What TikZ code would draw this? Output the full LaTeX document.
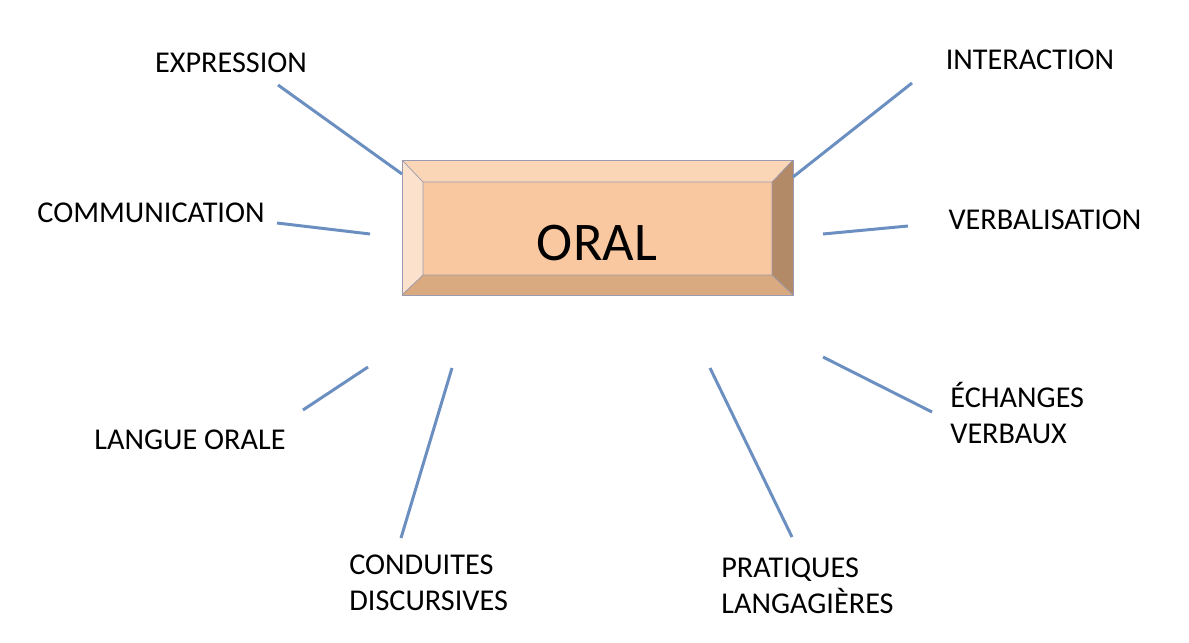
\documentclass[tikz,border=0pt]{standalone}
\usepackage{fontspec}
\setmainfont{Carlito}
\definecolor{spokeblue}{HTML}{6B8FC0}
\definecolor{faceorange}{HTML}{F9C8A0}
\definecolor{toporange}{HTML}{FBD6B6}
\definecolor{leftorange}{HTML}{FCE2CD}
\definecolor{rightbrown}{HTML}{B38A68}
\definecolor{bottombrown}{HTML}{D9A97F}
\definecolor{edgegrey}{HTML}{9A9AB0}
\tikzset{
  label/.style = {font=\fontsize{17.2}{20.5}\selectfont, align=left, inner sep=0pt},
  spoke/.style = {draw=spokeblue, line width=1.7pt}
}

\begin{document}
\begin{tikzpicture}[x=0.02cm, y=-0.02cm]
\useasboundingbox (0,0) rectangle (1189,642);
\def\outerbox{(402,160) rectangle (793,295)}
% bevelled box
\fill[faceorange] \outerbox;
\fill[toporange] (402,160) -- (793,160) -- (772,182) -- (423,182) -- cycle;
\fill[leftorange] (402,160) -- (423,182) -- (423,275) -- (402,295) -- cycle;
\fill[rightbrown] (793,160) -- (793,295) -- (772,275) -- (772,182) -- cycle;
\fill[bottombrown] (402,295) -- (423,275) -- (772,275) -- (793,295) -- cycle;
\draw[edgegrey, line width=0.5pt] \outerbox;
\draw[edgegrey, line width=0.4pt] (423,182) rectangle (772,275)
  (402,160) -- (423,182) (793,160) -- (772,182)
  (402,295) -- (423,275) (793,295) -- (772,275);
\node (oral) at (597,243) {\fontsize{31}{36}\selectfont ORAL};

\node[label] (expression) at (231,63) {EXPRESSION};
\node[label] (interaction) at (1030,60) {INTERACTION};
\node[label] (communication) at (151,213) {COMMUNICATION};
\node[label] (verbalisation) at (1045,220) {VERBALISATION};
\node[label] (langue) at (190,440) {LANGUE ORALE};
\node[label, anchor=west] (echanges) at (950,413) {ÉCHANGES\\VERBAUX};
\node[label, anchor=west] (conduites) at (349,583) {CONDUITES\\DISCURSIVES};
\node[label, anchor=west] (pratiques) at (721,586) {PRATIQUES\\LANGAGIÈRES};

\coordinate (expr-a) at (278,85);     \coordinate (expr-b) at (402,174);
\coordinate (inter-a) at (912,83);    \coordinate (inter-b) at (793,177);
\coordinate (comm-a) at (277,223);    \coordinate (comm-b) at (370,234);
\coordinate (verb-a) at (908,226);    \coordinate (verb-b) at (823,234);
\coordinate (lang-a) at (303,410);    \coordinate (lang-b) at (368,367);
\coordinate (ech-a) at (932,412);     \coordinate (ech-b) at (823,357);
\coordinate (cond-a) at (401,538);    \coordinate (cond-b) at (452,368);
\coordinate (prat-a) at (792,537);    \coordinate (prat-b) at (710,368);

\foreach \s in {expr, inter, comm, verb, lang, ech, cond, prat}
  \draw[spoke] (\s-a) -- (\s-b);
\end{tikzpicture}
\end{document}
